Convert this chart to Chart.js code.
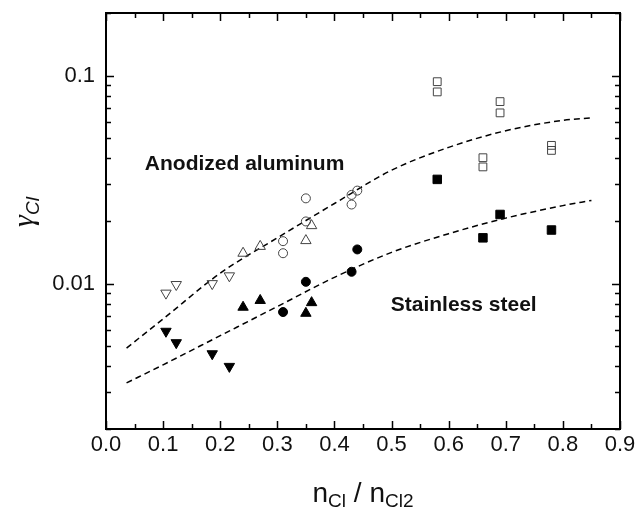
<!DOCTYPE html>
<html>
<head>
<meta charset="utf-8">
<script src="https://cdn.jsdelivr.net/npm/chart.js@4.4.0/dist/chart.umd.min.js"></script>
<style>
    html, body { margin: 0; padding: 0; background: #fff; }
</style>
</head>
<body>
<canvas id="chart" width="637" height="515"></canvas>
<script>
    // Anodized aluminum (open symbols)
    var alCircleX = [0.31, 0.31, 0.35, 0.35, 0.43, 0.43, 0.44];
    var alCircleY = [0.0160, 0.0140, 0.0257, 0.0199, 0.0267, 0.0240, 0.0280];
    var alTriUpX = [0.24, 0.27, 0.35, 0.36];
    var alTriUpY = [0.0140, 0.0151, 0.0161, 0.0190];
    var alTriDownX = [0.105, 0.123, 0.186, 0.216];
    var alTriDownY = [0.0090, 0.0099, 0.0100, 0.0109];
    var alSquareX = [0.58, 0.58, 0.66, 0.66, 0.69, 0.69, 0.78, 0.78];
    var alSquareY = [0.0935, 0.0835, 0.0403, 0.0364, 0.0750, 0.0662, 0.0462, 0.0437];

    // Stainless steel (filled symbols)
    var ssCircleX = [0.31, 0.35, 0.43, 0.44];
    var ssCircleY = [0.0073, 0.0102, 0.0114, 0.0146];
    var ssTriUpX = [0.24, 0.27, 0.35, 0.36];
    var ssTriUpY = [0.0077, 0.0083, 0.0072, 0.0081];
    var ssTriDownX = [0.105, 0.123, 0.186, 0.216];
    var ssTriDownY = [0.0059, 0.0052, 0.0046, 0.0040];
    var ssSquareX = [0.58, 0.66, 0.69, 0.78];
    var ssSquareY = [0.0317, 0.0166, 0.0215, 0.0181];

    // dashed fit curves
    var fitX = [0.036, 0.1, 0.2, 0.3, 0.4, 0.5, 0.6, 0.7, 0.8, 0.85];
    var fitAlY = [0.0049, 0.00676, 0.01122, 0.0166, 0.02427, 0.03508, 0.04519, 0.05433, 0.06095, 0.06266];
    var fitSsY = [0.00333, 0.00407, 0.00562, 0.00776, 0.01072, 0.01413, 0.01738, 0.02065, 0.02371, 0.02512];

    // ticks
    var xTickLabels = [0, 0.1, 0.2, 0.3, 0.4, 0.5, 0.6, 0.7, 0.8, 0.9];
    var xMinorTicks = [0.05, 0.15, 0.25, 0.35, 0.45, 0.55, 0.65, 0.75, 0.85];
    var yTickLabels = [0.01, 0.1];
    var yMinorTicks = [0.002, 0.003, 0.004, 0.005, 0.006, 0.007, 0.008, 0.009,
                       0.02, 0.03, 0.04, 0.05, 0.06, 0.07, 0.08, 0.09, 0.2];

    // annotations [text, x, y] in data units (left / baseline)
    var labelAl = ['Anodized aluminum', 0.068, 0.0353];
    var labelSs = ['Stainless steel', 0.4986, 0.00742];

    var SANS = '"Liberation Sans", Arial, sans-serif';

    function pts(xs, ys) {
        return xs.map(function(x, i) { return { x: x, y: ys[i] }; });
    }

    function marker(xs, ys, style, filled, radius, rotation) {
        return {
            data: pts(xs, ys),
            showLine: false,
            pointStyle: style,
            pointRadius: radius,
            pointRotation: rotation || 0,
            pointBorderWidth: 1,
            pointBorderColor: filled ? '#000' : '#444',
            pointBackgroundColor: filled ? '#000' : 'rgba(0,0,0,0)'
        };
    }

    function fitLine(ys) {
        return {
            data: pts(fitX, ys),
            showLine: true,
            borderColor: '#000',
            borderWidth: 1.5,
            borderDash: [6, 4],
            pointRadius: 0,
            cubicInterpolationMode: 'monotone',
            fill: false
        };
    }

    // no extra room for the end labels, the frame is fixed
    function noPad(scale) {
        scale.paddingLeft = 0;
        scale.paddingRight = 0;
        scale.paddingTop = 0;
        scale.paddingBottom = 0;
    }

    // draw a run of [text, font, dy] pieces starting at x
    function runWidth(ctx, parts) {
        var w = 0;
        parts.forEach(function(p) { ctx.font = p[1]; w += ctx.measureText(p[0]).width; });
        return w;
    }
    function drawRun(ctx, parts, x, y) {
        parts.forEach(function(p) {
            ctx.font = p[1];
            ctx.fillText(p[0], x, y + p[2]);
            x += ctx.measureText(p[0]).width;
        });
    }

    var frame = {
        id: 'frame',
        afterDraw: function(chart) {
            var ctx = chart.ctx;
            var a = chart.chartArea;
            var xs = chart.scales.x;
            var ys = chart.scales.y;

            ctx.save();
            ctx.strokeStyle = '#000';
            ctx.lineWidth = 1.5;
            ctx.beginPath();
            xTickLabels.concat(xMinorTicks).forEach(function(v) {
                var len = xTickLabels.indexOf(v) >= 0 ? 8 : 5;
                var px = Math.round(xs.getPixelForValue(v)) + 0.5;
                ctx.moveTo(px, a.bottom); ctx.lineTo(px, a.bottom - len);
                ctx.moveTo(px, a.top); ctx.lineTo(px, a.top + len);
            });
            yTickLabels.concat(yMinorTicks).forEach(function(v) {
                var len = yTickLabels.indexOf(v) >= 0 ? 8 : 5;
                var py = Math.round(ys.getPixelForValue(v)) + 0.5;
                ctx.moveTo(a.left, py); ctx.lineTo(a.left + len, py);
                ctx.moveTo(a.right, py); ctx.lineTo(a.right - len, py);
            });
            ctx.stroke();

            ctx.lineWidth = 2;
            ctx.strokeRect(a.left, a.top, a.right - a.left, a.bottom - a.top);

            // annotations
            ctx.fillStyle = '#111';
            ctx.textBaseline = 'alphabetic';
            ctx.textAlign = 'left';
            ctx.font = 'bold 21px ' + SANS;
            [labelAl, labelSs].forEach(function(l) {
                ctx.fillText(l[0], xs.getPixelForValue(l[1]), ys.getPixelForValue(l[2]));
            });

            // x title: n_Cl / n_Cl2
            var big = '28px ' + SANS;
            var sub = '19px ' + SANS;
            var xParts = [['n', big, 0], ['Cl', sub, 5], [' / ', big, 0], ['n', big, 0], ['Cl2', sub, 5]];
            var w = runWidth(ctx, xParts);
            drawRun(ctx, xParts, (a.left + a.right) / 2 - w / 2, 502);

            // y title: gamma_Cl, rotated
            var yParts = [['\u03b3', 'italic 30px "Liberation Serif", serif', 0], ['Cl', 'italic 19px ' + SANS, 6]];
            var wy = runWidth(ctx, yParts);
            ctx.translate(33, 212);
            ctx.rotate(-Math.PI / 2);
            drawRun(ctx, yParts, -wy / 2, 0);
            ctx.restore();
        }
    };

    new Chart(document.getElementById('chart').getContext('2d'), {
        type: 'scatter',
        data: {
            datasets: [
                marker(alCircleX, alCircleY, 'circle', false, 4.5),
                marker(alTriUpX, alTriUpY, 'triangle', false, 6),
                marker(alTriDownX, alTriDownY, 'triangle', false, 6, 180),
                marker(alSquareX, alSquareY, 'rect', false, 5.5),
                marker(ssCircleX, ssCircleY, 'circle', true, 4.5),
                marker(ssTriUpX, ssTriUpY, 'triangle', true, 6),
                marker(ssTriDownX, ssTriDownY, 'triangle', true, 6, 180),
                marker(ssSquareX, ssSquareY, 'rect', true, 6),
                fitLine(fitAlY),
                fitLine(fitSsY)
            ]
        },
        options: {
            responsive: false,
            animation: false,
            events: [],
            layout: {
                padding: { left: 0, top: 13, right: 17, bottom: 0 }
            },
            plugins: {
                legend: { display: false },
                tooltip: { enabled: false }
            },
            scales: {
                x: {
                    type: 'linear',
                    min: 0,
                    max: 0.9,
                    afterBuildTicks: function(scale) {
                        scale.ticks = xTickLabels.map(function(v) { return { value: v }; });
                    },
                    afterFit: function(scale) { scale.height = 86; noPad(scale); },
                    grid: { display: false, drawTicks: false },
                    border: { display: false },
                    ticks: {
                        padding: 3,
                        color: '#111',
                        font: { family: SANS, size: 22 },
                        maxRotation: 0,
                        callback: function(v) { return v.toFixed(1); }
                    }
                },
                y: {
                    type: 'logarithmic',
                    min: 0.002,
                    max: 0.2,
                    afterBuildTicks: function(scale) {
                        scale.ticks = yTickLabels.map(function(v) { return { value: v }; });
                    },
                    afterFit: function(scale) { scale.width = 106; noPad(scale); },
                    grid: { display: false, drawTicks: false },
                    border: { display: false },
                    ticks: {
                        padding: 11,
                        color: '#111',
                        font: { family: SANS, size: 22 },
                        callback: function(v) { return String(v); }
                    }
                }
            }
        },
        plugins: [frame]
    });
</script>
</body>
</html>
